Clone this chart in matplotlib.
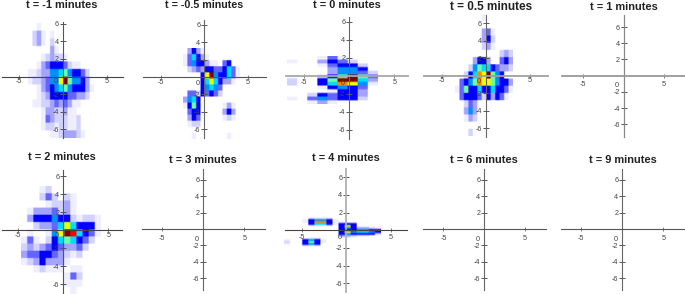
import matplotlib
matplotlib.use('Agg')
import matplotlib.pyplot as plt
from matplotlib.colors import ListedColormap, BoundaryNorm
import numpy as np

plt.rcParams['font.family'] = ['Liberation Sans', 'DejaVu Sans']

W, H = 685, 294

titles = ['t = -1 minutes', 't = -0.5 minutes', 't = 0 minutes', 't = 0.5 minutes', 't = 1 minutes',
          't = 2 minutes', 't = 3 minutes', 't = 4 minutes', 't = 6 minutes', 't = 9 minutes']

# colour level of each cell, top row first, hex digit per cell
grid_m1 = ['001000000000000', '023101000000000', '023102000000000', '000003100000000',
           '000123221000000', '001345554211000', '112336678655420', '12234669c866530',
           '001345678655531', '001235555443320', '011223434311000', '000133223110000',
           '000143222112000', '000122122112000', '000001123332100']
grid_m05 = ['0353100000000', '1475310000000', '1465531104500', '0234355445741',
            '000059c655741', '0000579753310', '0000567640000', '0442545420000',
            '3675000000000', '1585000001310', '0455000003530', '0354000001210',
            '0122000000000', '0000000000000', '0010000000100']
grid_0 = ['000141000', '100354200', '000145520', '000036650', '000036642', '000258c84',
          '20058cc73', '20057a961', '000156540', '000015530', '002545530', '104645520',
          '001310000']
grid_05 = ['0000001000000', '0000000000000', '0000003410000', '0000003520000',
           '0000002310000', '0000000000232', '0000355300453', '0002687754332',
           '00257a9c86500', '04568a9986553', '1485575575541', '0455542535410',
           '0024300000000', '0036300000000', '0013200000000', '0000000000000',
           '0002000000000']
grid_2 = ['0001200000000', '0002420210000', '0000122310000', '0133342310000',
          '0355565521221', '0023347975551', '0100169cb7541', '1410257875420',
          '2323454334200', '3445543212000', '1235333100000', '0012111011000',
          '0000000142000', '0000000111000', '0000000010000']
grid_4 = ['0000111100000000', '0001566510000000', '00015aa511000000', '0000577515550000',
          '0000111105950000', '0000000005653321', '0000000005556655', '0000000005967765',
          '0000000005655552', '0000000003321100', '0000110000000000', '1005651000000000',
          '2005851000000000', '1005650000000000', '0001110000000000']
grids = [grid_m1, grid_m05, grid_0, grid_05, None, grid_2, None, grid_4, None, None]

# cell layout of each map: left edge, top edge, cell width, cell height (data units)
cells = [(-4.0, 6.08, 0.5, 0.868), (-2.5, 3.26, 0.5, 0.69), (-6.96, 2.19, 1.12, 0.407),
         (-3.5, 7.0, 0.5, 0.817), None, (-4.74, 4.89, 0.678, 0.796), None,
         (-7.09, 1.51, 0.679, 0.226), None, None]

# panel layout in pixels: origin x, origin y, px per unit x, y, axis extents
origin_x = [62.7, 204.3, 349.3, 485.7, 623.7, 63.3, 203.3, 346.3, 484.3, 622.3]
origin_y = [76.5, 77, 75.7, 75.7, 75.7, 230.3, 229, 230.3, 229, 229]
scale = [8.8, 8.7, 9.0, 8.77, 8.1, 9.0, 8.2, 8.84, 8.17, 8.2]
x_left = [1.5, 143, 286, 424, 562, 1.5, 142.3, 285, 423.3, 561]
x_right = [123, 265.7, 408, 547.7, 685, 121.7, 265, 406.7, 545.7, 684]
y_top = [22, 20, 17, 15, 15, 170, 168.7, 168.7, 168.7, 168.7]
y_bottom = [138, 138, 139, 136.7, 136.7, 293.5, 290.3, 292, 290.3, 290.3]
title_x = [62, 204.5, 347.3, 491, 624, 61.7, 203.3, 346.3, 484, 623.3]
title_y = [5.5, 5, 4.5, 6.5, 6.5, 157, 159.7, 158, 159.7, 159.7]
title_size = [7.9, 7.7, 7.9, 8.5, 7.9, 7.9, 7.9, 7.9, 7.9, 7.9]
label_drop = [3, 4, 5, 3, 7, 3, 8, 5, 8, 8]
x_line = [('#444444', 0.8), ('#555555', 0.8), ('#a8a8a8', 1.3), ('#a0a0a0', 1.3), ('#999999', 1.3),
          ('#444444', 0.8), ('#555555', 0.8), ('#444444', 0.8), ('#555555', 0.8), ('#555555', 0.8)]
y_line = [('#555555', 0.8), ('#666666', 0.8), ('#666666', 0.8), ('#666666', 0.8), ('#888888', 0.9),
          ('#555555', 0.8), ('#666666', 0.8), ('#b0b0b0', 1.3), ('#666666', 0.8), ('#666666', 0.8)]

level_colors = ['#ffffff', '#eeeeff', '#d2d2ff', '#a4a4ff', '#6464ff', '#0000ff', '#0090ff',
                '#00dcff', '#70ffa0', '#f0ff00', '#ff8800', '#ff0000', '#800000']
cmap = ListedColormap(level_colors)
norm = BoundaryNorm(np.arange(-0.5, 13.5), cmap.N)

fig = plt.figure(figsize=(W / 100, H / 100), dpi=100)

for i, title in enumerate(titles):
    ax = fig.add_axes([x_left[i] / W, 1 - y_bottom[i] / H,
                       (x_right[i] - x_left[i]) / W, (y_bottom[i] - y_top[i]) / H])
    ax.patch.set_alpha(0)

    if grids[i] is not None:
        vals = np.array([[int(c, 16) for c in row] for row in grids[i]], dtype=float)
        x0, top, dx, dy = cells[i]
        # repeat cells so bilinear only softens their edges by a pixel or so
        nx = max(1, round(dx * scale[i] / 1.5))
        ny = max(1, round(dy * scale[i] / 1.5))
        vals = np.repeat(np.repeat(vals, ny, axis=0), nx, axis=1)
        extent = [x0, x0 + dx * vals.shape[1] / nx, top - dy * vals.shape[0] / ny, top]
        ax.imshow(vals, cmap=cmap, norm=norm, extent=extent, aspect='auto', origin='upper',
                  interpolation='bilinear', interpolation_stage='rgba', clip_on=False, zorder=1)

    ax.set_xlim((x_left[i] - origin_x[i]) / scale[i], (x_right[i] - origin_x[i]) / scale[i])
    ax.set_ylim((origin_y[i] - y_bottom[i]) / scale[i], (origin_y[i] - y_top[i]) / scale[i])

    for side in ['top', 'right']:
        ax.spines[side].set_visible(False)
    ax.spines['bottom'].set_position(('data', 0))
    ax.spines['left'].set_position(('data', 0))
    ax.spines['bottom'].set_color(x_line[i][0])
    ax.spines['bottom'].set_linewidth(x_line[i][1])
    ax.spines['left'].set_color(y_line[i][0])
    ax.spines['left'].set_linewidth(y_line[i][1])
    ax.spines['bottom'].set_zorder(3)
    ax.spines['left'].set_zorder(3)

    ax.set_xticks([-5, 5])
    ax.set_xticklabels(['-5', '5'])
    ax.set_yticks([-6, -4, -2, 2, 4, 6])
    ax.set_yticklabels(['-6', '-4', '-2', '2', '4', '6'])
    ax.tick_params(axis='x', direction='inout', length=2.5, width=0.6, color='#666666',
                   labelsize=5.2, labelcolor='#444444', pad=(label_drop[i] - 3.4) * 0.72)
    ax.tick_params(axis='y', direction='inout', length=5, width=0.7, color='#555555',
                   labelsize=5.2, labelcolor='#444444', pad=0.4)
    ax.annotate('0', (0, 0), xytext=(-5, -label_drop[i] * 0.72 - 1.7), textcoords='offset points',
                fontsize=5.2, color='#444444', ha='center', va='center')

    fig.text(title_x[i] / W, 1 - title_y[i] / H, title, fontsize=title_size[i],
             fontweight='bold', color='#222222', ha='center', va='center')

plt.savefig('out.png', dpi=100)
